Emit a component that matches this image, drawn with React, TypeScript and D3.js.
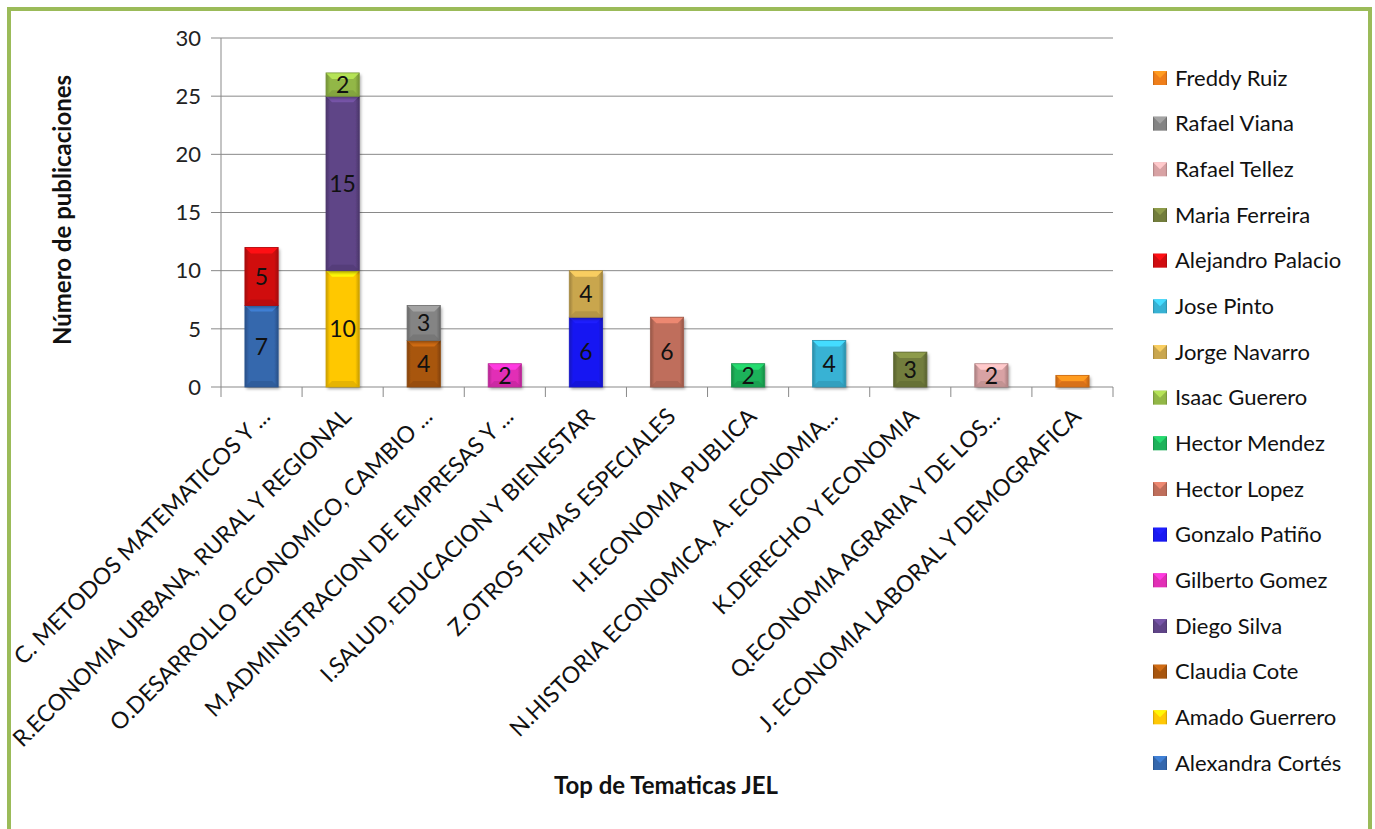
import React from "react";
import * as d3 from "d3";

const categories = [
  "C. METODOS MATEMATICOS Y ...",
  "R.ECONOMIA URBANA, RURAL Y REGIONAL",
  "O.DESARROLLO ECONOMICO, CAMBIO ...",
  "M.ADMINISTRACION DE EMPRESAS Y ...",
  "I.SALUD, EDUCACION Y BIENESTAR",
  "Z.OTROS TEMAS ESPECIALES",
  "H.ECONOMIA PUBLICA",
  "N.HISTORIA ECONOMICA, A. ECONOMIA...",
  "K.DERECHO Y ECONOMIA",
  "Q.ECONOMIA AGRARIA Y DE LOS...",
  "J. ECONOMIA LABORAL Y DEMOGRAFICA",
];

// stacking order (bottom to top); legend shows these reversed
const seriesNames = [
  "Alexandra Cortés",
  "Amado Guerrero",
  "Claudia Cote",
  "Diego Silva",
  "Gilberto Gomez",
  "Gonzalo Patiño",
  "Hector Lopez",
  "Hector Mendez",
  "Isaac Guerero",
  "Jorge Navarro",
  "Jose Pinto",
  "Alejandro Palacio",
  "Maria Ferreira",
  "Rafael Tellez",
  "Rafael Viana",
  "Freddy Ruiz",
];

const seriesColors = [
  "#3467AD",
  "#FFC805",
  "#A8560F",
  "#5F4487",
  "#E22FB6",
  "#1818F2",
  "#BF6E5B",
  "#1DB25A",
  "#92B746",
  "#C9A64E",
  "#37B2D4",
  "#D00C10",
  "#727D3C",
  "#D8A2A4",
  "#848484",
  "#EF7E1A",
];

// values per series, one entry per category
const alexandraCortes = [7, 0, 0, 0, 0, 0, 0, 0, 0, 0, 0];
const amadoGuerrero = [0, 10, 0, 0, 0, 0, 0, 0, 0, 0, 0];
const claudiaCote = [0, 0, 4, 0, 0, 0, 0, 0, 0, 0, 0];
const diegoSilva = [0, 15, 0, 0, 0, 0, 0, 0, 0, 0, 0];
const gilbertoGomez = [0, 0, 0, 2, 0, 0, 0, 0, 0, 0, 0];
const gonzaloPatino = [0, 0, 0, 0, 6, 0, 0, 0, 0, 0, 0];
const hectorLopez = [0, 0, 0, 0, 0, 6, 0, 0, 0, 0, 0];
const hectorMendez = [0, 0, 0, 0, 0, 0, 2, 0, 0, 0, 0];
const isaacGuerero = [0, 2, 0, 0, 0, 0, 0, 0, 0, 0, 0];
const jorgeNavarro = [0, 0, 0, 0, 4, 0, 0, 0, 0, 0, 0];
const josePinto = [0, 0, 0, 0, 0, 0, 0, 4, 0, 0, 0];
const alejandroPalacio = [5, 0, 0, 0, 0, 0, 0, 0, 0, 0, 0];
const mariaFerreira = [0, 0, 0, 0, 0, 0, 0, 0, 3, 0, 0];
const rafaelTellez = [0, 0, 0, 0, 0, 0, 0, 0, 0, 2, 0];
const rafaelViana = [0, 0, 3, 0, 0, 0, 0, 0, 0, 0, 0];
const freddyRuiz = [0, 0, 0, 0, 0, 0, 0, 0, 0, 0, 1];

const seriesValues = [
  alexandraCortes, amadoGuerrero, claudiaCote, diegoSilva, gilbertoGomez,
  gonzaloPatino, hectorLopez, hectorMendez, isaacGuerero, jorgeNavarro,
  josePinto, alejandroPalacio, mariaFerreira, rafaelTellez, rafaelViana, freddyRuiz,
];

const yTicks = [0, 5, 10, 15, 20, 25, 30];

const W = 1375;
const H = 829;
const plot = { left: 221, right: 1113, top: 38, bottom: 387 };
const FONT = "Lato, 'Open Sans', sans-serif";

export default function App() {
  const rows = categories.map((c, i) => {
    const r: any = { cat: c };
    seriesNames.forEach((s, j) => (r[s] = seriesValues[j][i]));
    return r;
  });
  const stacked = d3.stack<any>().keys(seriesNames)(rows);

  const x = d3
    .scaleBand<string>()
    .domain(categories)
    .range([plot.left, plot.right])
    .paddingInner(0.59)
    .paddingOuter(0.295);
  const step = x.step();
  const y = d3.scaleLinear().domain([0, 30]).range([plot.bottom, plot.top]);

  const legendY = d3
    .scalePoint<string>()
    .domain(seriesNames.slice().reverse())
    .range([78, 763]);

  const bw = x.bandwidth();
  const bev = 6;

  return (
    <div style={{ position: "fixed", left: 0, top: 0, width: W, height: H, background: "#fff" }}>
      <svg width={W} height={H} style={{ display: "block", fontFamily: FONT }}>
        <defs>
          {seriesColors.map((c, i) => {
            const dark = d3.color(c)!.darker(0.7).formatHex();
            return (
              <linearGradient key={i} id={`g${i}`} x1="0" x2="1" y1="0" y2="0">
                <stop offset="0%" stopColor={dark} />
                <stop offset="12%" stopColor={c} />
                <stop offset="88%" stopColor={c} />
                <stop offset="100%" stopColor={dark} />
              </linearGradient>
            );
          })}
          <filter id="shadow" x="-20%" y="-20%" width="140%" height="140%">
            <feDropShadow dx="1.5" dy="2" stdDeviation="1.5" floodColor="#000" floodOpacity="0.35" />
          </filter>
        </defs>

        <rect x={0} y={0} width={W} height={H} fill="#fff" />
        <rect x={9} y={9} width={1361} height={H + 20} fill="none" stroke="#9BBB59" strokeWidth={4} />

        {/* gridlines */}
        {yTicks.map((t) => (
          <line key={t} x1={plot.left - 10} x2={plot.right} y1={y(t)} y2={y(t)} stroke="#898989" strokeWidth={1} />
        ))}
        {/* y axis */}
        <line x1={plot.left} x2={plot.left} y1={plot.top} y2={plot.bottom} stroke="#898989" />
        {yTicks.map((t) => (
          <text key={t} x={201} y={y(t)} dy="0.35em" textAnchor="end" fontSize={22} fill="#222">
            {t}
          </text>
        ))}
        {/* x ticks */}
        {d3.range(categories.length + 1).map((i) => (
          <line
            key={i}
            x1={plot.left + i * step}
            x2={plot.left + i * step}
            y1={plot.bottom}
            y2={plot.bottom + 10}
            stroke="#898989"
          />
        ))}

        {/* bars */}
        {stacked.map((layer, si) =>
          layer.map((d, ci) => {
            const v = d[1] - d[0];
            if (v <= 0) return null;
            const x0 = x(categories[ci])!;
            const y0 = y(d[1]);
            const y1 = y(d[0]);
            const h = y1 - y0;
            const c = seriesColors[si];
            const light = d3.color(c)!.brighter(0.6).formatHex();
            const dark = d3.color(c)!.darker(0.5).formatHex();
            const b = Math.min(bev, h / 2);
            return (
              <g key={`${si}-${ci}`}>
                <rect x={x0} y={y0} width={bw} height={h} fill={`url(#g${si})`} filter="url(#shadow)" />
                <polygon
                  points={`${x0},${y0} ${x0 + bw},${y0} ${x0 + bw - b},${y0 + b} ${x0 + b},${y0 + b}`}
                  fill={light}
                />
                <polygon
                  points={`${x0},${y1} ${x0 + bw},${y1} ${x0 + bw - b},${y1 - b} ${x0 + b},${y1 - b}`}
                  fill={dark}
                  opacity={0.6}
                />
                <rect x={x0} y={y0} width={bw} height={h} fill="none" stroke={dark} strokeWidth={0.8} />
                {v > 1 && (
                  <text
                    x={x0 + bw / 2}
                    y={(y0 + y1) / 2}
                    dy="0.36em"
                    textAnchor="middle"
                    fontSize={23}
                    fill="#111"
                  >
                    {v}
                  </text>
                )}
              </g>
            );
          })
        )}

        {/* x labels */}
        {categories.map((c) => {
          const cx = x(c)! + bw / 2;
          return (
            <text
              key={c}
              transform={`translate(${cx + 10},${plot.bottom + 31}) rotate(-45)`}
              textAnchor="end"
              fontSize={23}
              fill="#111"
            >
              {c}
            </text>
          );
        })}

        {/* axis titles */}
        <text
          transform={`translate(71,210) rotate(-90)`}
          textAnchor="middle"
          fontSize={24}
          fontWeight="bold"
          fill="#111"
        >
          Número de publicaciones
        </text>
        <text x={666} y={794} textAnchor="middle" fontSize={24} fontWeight="bold" fill="#111">
          Top de Tematicas JEL
        </text>

        {/* legend */}
        {seriesNames.map((s, i) => {
          const ly = legendY(s)!;
          const c = seriesColors[i];
          return (
            <g key={s}>
              <rect x={1153} y={ly - 7} width={14} height={14} fill={`url(#g${i})`} />
              <polygon
                points={`1153,${ly - 7} 1167,${ly - 7} 1160,${ly} `}
                fill={d3.color(c)!.brighter(0.6).formatHex()}
              />
              <text x={1175} y={ly} dy="0.35em" fontSize={22} fill="#111">
                {s}
              </text>
            </g>
          );
        })}
      </svg>
    </div>
  );
}
